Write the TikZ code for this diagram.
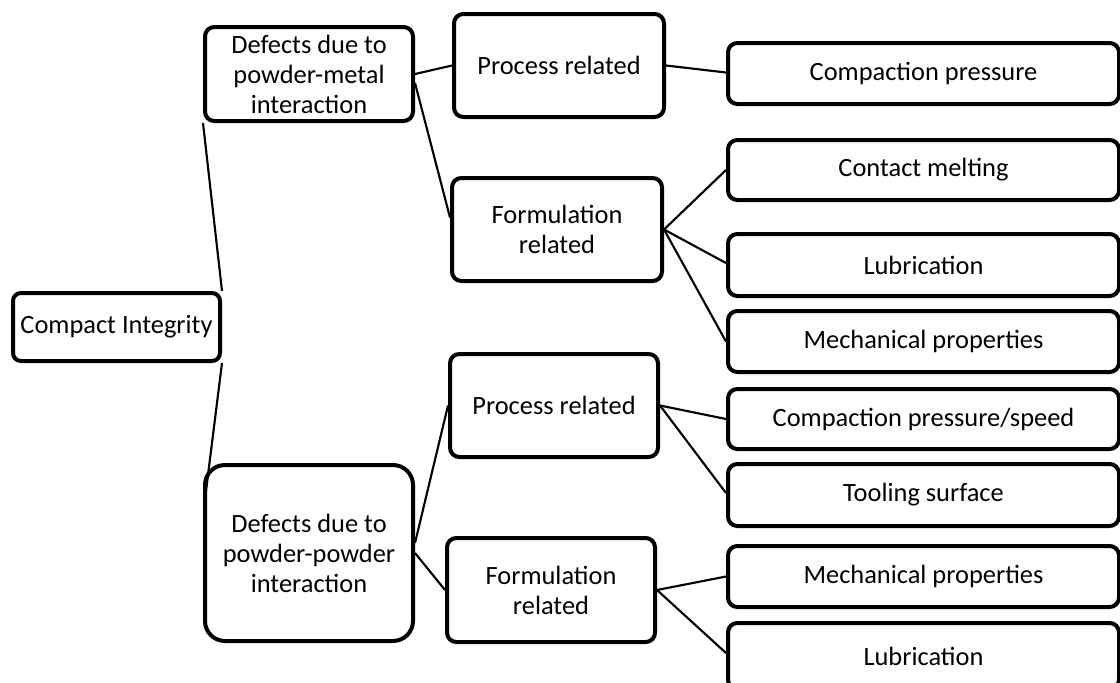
\documentclass[tikz,border=0pt]{standalone}
\usepackage{fontspec}
\setmainfont{Carlito}
\usetikzlibrary{calc}
\tikzset{
  box/.style={draw=black, line width=3pt, rounded corners=7pt, fill=white,
    align=center, inner sep=0pt, font=\fontsize{19.8pt}{22.5pt}\selectfont},
  leaf/.style={box, minimum width=293.25pt},
  link/.style={draw=black, line width=1.6pt}
}
\begin{document}
\begin{tikzpicture}[x=0.75pt, y=-0.75pt]
\useasboundingbox (0,0) rectangle (1120,682);
\clip (0,0) rectangle (1120,682);
% level 0
\node[box, minimum width=155.25pt, minimum height=51pt, rounded corners=6pt] (CI) at (116.5,327) {Compact Integrity};
% level 1
\node[box, minimum width=156pt, minimum height=70.5pt] (D1) at (309,74) {Defects due to\\powder-metal\\interaction};
\node[box, minimum width=156pt, minimum height=132pt, rounded corners=15pt] (D2) at (309,553) {Defects due to\\powder-powder\\interaction};
% level 2
\node[box, minimum width=157.5pt, minimum height=77.25pt] (P1) at (559,65.5) {Process related};
\node[box, minimum width=157.5pt, minimum height=77.25pt] (F1) at (557,229.5) {Formulation\\related};
\node[box, minimum width=156pt, minimum height=77.25pt] (P2) at (554,405.5) {Process related};
\node[box, minimum width=156pt, minimum height=78pt] (F2) at (551,590) {Formulation\\related};
% level 3
\node[leaf, minimum height=45.75pt] (CP) at (923.5,73.5) {Compaction pressure};
\node[leaf, minimum height=45pt] (CM) at (923.5,170) {Contact melting};
\node[leaf, minimum height=46.5pt] (L1) at (923.5,265) {Lubrication};
\node[leaf, minimum height=45.75pt] (M1) at (923.5,341.5) {Mechanical properties};
\node[leaf, minimum height=45pt] (CPS) at (923.5,419) {Compaction pressure/speed};
\node[leaf, minimum height=46.5pt] (T) at (923.5,495) {Tooling surface};
\node[leaf, minimum height=45.75pt] (M2) at (923.5,576.5) {Mechanical properties};
\node[leaf, minimum height=49.5pt] (L2) at (923.5,656) {Lubrication};
% connectors
\draw[link] (CI.north east) -- (D1.south west);
\draw[link] (CI.south east) -- ($(D2.west)+(1,-46)$);
\draw[link] (D1.east) -- (P1.west);
\draw[link] ($(D1.east)+(0,9)$) -- ($(F1.west)+(0,-12)$);
\draw[link] ($(D2.east)+(0,-10)$) -- (P2.west);
\draw[link] (D2.east) -- (F2.west);
\draw[link] (P1.east) -- ($(CP.west)+(0,-1)$);
\draw[link] (F1.east) -- (CM.west);
\draw[link] (F1.east) -- ($(L1.west)+(0,-2)$);
\draw[link] (F1.east) -- (M1.west);
\draw[link] (P2.east) -- (CPS.west);
\draw[link] (P2.east) -- ($(T.west)+(0,-2)$);
\draw[link] (F2.east) -- (M2.west);
\draw[link] (F2.east) -- ($(L2.west)+(0,-3)$);
\end{tikzpicture}
\end{document}
